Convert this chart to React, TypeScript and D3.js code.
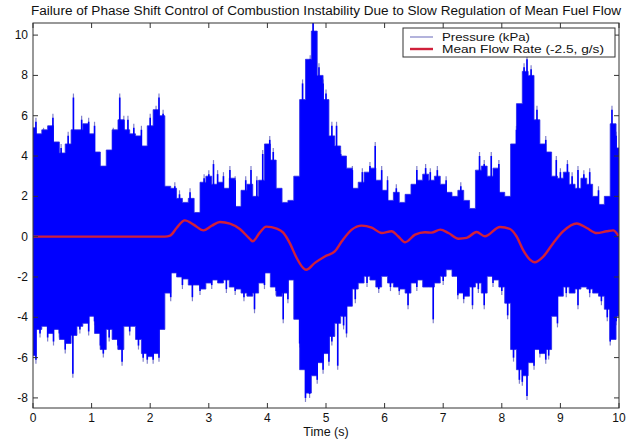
import React from "react";
import * as d3 from "d3";

const upperEnv = [
  5.4, 5.1, 5.3, 5.5, 4.7, 4.15, 4.6, 5.3, 5.3, 5.6,
  5.1, 4.2, 3.5, 4.3, 5.3, 5.8, 5.3, 5.1, 5.0, 4.5,
  5.5, 6.3, 6.0, 2.5, 2.4, 1.9, 1.7, 1.9, 1.2, 2.7,
  3.0, 2.6, 2.7, 2.4, 2.9, 1.5, 2.3, 2.6, 2.0, 2.8,
  4.6, 3.8, 2.4, 1.7, 1.8, 3.0, 6.8, 8.8, 10.2, 8.0,
  6.8, 5.0, 4.5, 4.0, 3.4, 2.4, 2.7, 3.2, 3.4, 2.8,
  2.3, 1.8, 2.2, 1.7, 2.1, 2.6, 2.8, 3.1, 2.8, 3.0,
  2.6, 2.2, 2.0, 2.3, 1.8, 1.4, 3.3, 3.5, 3.0, 3.4,
  2.2, 2.0, 4.6, 6.6, 8.2, 8.0, 5.8, 4.6, 4.2, 3.0,
  2.9, 3.2, 2.6, 2.4, 2.9, 2.6, 2.0, 1.6, 2.0, 5.6,
  4.4,
];
const lowerEnv = [
  -5.9, -4.6, -4.45, -4.8, -4.6, -5.1, -5.3, -4.9, -4.45, -4.3,
  -3.95, -4.8, -5.6, -4.6, -5.1, -5.6, -4.45, -4.45, -5.1, -5.8,
  -5.95, -5.8, -4.6, -2.8, -1.8, -2.0, -2.1, -2.4, -2.4, -2.6,
  -2.3, -2.15, -2.3, -2.15, -2.5, -2.6, -2.8, -2.95, -2.8, -2.3,
  -1.8, -2.5, -2.95, -2.8, -2.15, -4.1, -6.6, -7.76, -6.9, -6.25,
  -5.8, -4.95, -4.3, -3.95, -3.45, -2.6, -2.3, -1.97, -2.15, -2.5,
  -1.97, -2.3, -2.5, -2.6, -2.8, -2.3, -2.15, -2.5, -2.5, -2.3,
  -1.97, -1.64, -1.97, -2.8, -2.95, -2.5, -2.3, -2.8, -1.97, -2.15,
  -2.5, -3.3, -5.6, -6.6, -6.9, -6.25, -5.6, -5.8, -5.6, -3.95,
  -2.95, -2.5, -2.8, -2.6, -2.5, -2.6, -2.8, -2.95, -3.6, -5.1,
  -3.95,
];
const envStep = 0.1;

// Pressure peaks above the envelope (time s, kPa)
const upperSpikeT = [
  0.05, 0.18, 0.34, 0.48, 0.6, 0.69, 0.83, 0.95, 1.05, 1.37, 1.48, 1.55, 1.62, 1.72, 1.85, 2.0, 2.1, 2.15, 2.22,
  2.42, 2.5, 2.68, 2.92, 3.0, 3.08, 3.15, 3.25, 3.36, 3.45, 3.63, 3.72, 3.82, 3.92, 4.04, 4.1,
  4.6, 4.68, 4.73, 4.78, 4.88, 4.95, 5.0, 5.1, 5.18, 5.25, 5.45, 5.62, 5.75, 5.84, 5.95, 6.05, 6.2, 6.55,
  6.7, 6.78, 6.9, 7.05, 7.3, 7.62, 7.7, 7.82, 7.95, 8.25, 8.38, 8.43, 8.5, 8.6, 8.75, 8.93, 9.0, 9.12, 9.2,
  9.3, 9.4, 9.5, 9.65, 9.88, 9.95,
];
const upperSpikeV = [
  5.9, 5.4, 6.1, 4.6, 5.2, 7.1, 6.0, 5.9, 5.7, 5.4, 7.1, 6.0, 6.0, 5.6, 5.5, 6.1, 6.5, 7.1, 6.3,
  2.7, 2.3, 2.4, 3.1, 3.3, 3.8, 3.3, 3.2, 3.5, 3.0, 3.0, 3.5, 3.0, 4.3, 5.0, 4.4,
  7.8, 8.3, 9.0, 10.8, 8.6, 7.8, 7.3, 5.7, 5.7, 4.3, 3.5, 3.4, 3.7, 4.7, 3.5, 3.0, 2.6, 3.5,
  3.6, 3.4, 3.5, 3.0, 2.7, 4.2, 3.8, 4.2, 3.8, 5.5, 8.6, 9.0, 8.5, 6.5, 5.0, 4.0, 3.4, 3.8, 3.2,
  3.5, 3.3, 3.4, 2.5, 6.5, 5.2,
];
const lowerSpikeT = [
  0.05, 0.12, 0.25, 0.35, 0.45, 0.55, 0.68, 0.8, 0.95, 1.05, 1.15, 1.2, 1.3, 1.45, 1.52, 1.65, 1.8, 1.88, 1.95,
  2.05, 2.15, 2.35, 2.55, 2.72, 2.85, 3.05, 3.3, 3.45, 3.6, 3.78, 3.95, 4.15, 4.27, 4.35, 4.55, 4.65, 4.72,
  4.85, 4.95, 5.05, 5.1, 5.2, 5.3, 5.35, 5.5, 5.7, 5.9, 6.1, 6.25, 6.4, 6.55, 6.83, 7.0, 7.25, 7.35, 7.5,
  7.6, 7.7, 7.85, 8.0, 8.1, 8.2, 8.3, 8.35, 8.43, 8.55, 8.65, 8.75, 8.8, 8.95, 9.1, 9.3, 9.5, 9.7, 9.8,
  9.85, 9.95,
];
const lowerSpikeV = [
  -6.3, -5.0, -5.2, -5.4, -5.0, -5.8, -7.0, -4.8, -4.9, -4.4, -5.6, -6.0, -5.2, -5.6, -6.4, -4.9, -5.6, -6.2, -6.3,
  -6.3, -6.2, -3.2, -2.6, -3.2, -2.9, -2.6, -2.8, -2.9, -3.2, -3.8, -2.6, -2.9, -4.3, -3.3, -5.5, -8.2, -8.0,
  -7.3, -6.8, -6.4, -5.4, -6.6, -4.6, -5.0, -3.3, -2.5, -2.8, -2.7, -2.9, -3.6, -2.7, -4.3, -2.4, -3.1, -3.3, -3.6,
  -2.8, -3.6, -2.5, -2.9, -4.1, -6.2, -7.3, -7.4, -8.1, -6.6, -6.0, -6.3, -6.1, -4.5, -3.0, -3.6, -3.0, -3.4, -4.2,
  -5.4, -4.4,
];

// Mean flow rate (scaled)
const flowT = [0, 2.25, 2.34, 2.45, 2.59, 2.74, 2.91, 3.05, 3.19, 3.36, 3.53, 3.70, 3.75, 3.87, 3.98, 4.16, 4.27, 4.38, 4.50, 4.61, 4.66, 4.81, 4.98, 5.15, 5.27, 5.44, 5.61, 5.78, 5.95, 6.12, 6.23, 6.35, 6.52, 6.69, 6.80, 6.95, 7.09, 7.26, 7.40, 7.57, 7.71, 7.97, 8.14, 8.25, 8.36, 8.48, 8.56, 8.71, 8.88, 9.05, 9.28, 9.45, 9.62, 9.79, 9.90, 10];
const flowV = [0, 0, 0.05, 0.43, 0.81, 0.6, 0.31, 0.54, 0.73, 0.65, 0.38, -0.11, -0.23, 0.2, 0.5, 0.4, 0.2, -0.31, -1.06, -1.55, -1.64, -1.3, -0.98, -0.73, -0.23, 0.35, 0.55, 0.45, 0.18, 0.27, 0.02, -0.28, 0.1, 0.22, 0.2, 0.35, 0.18, -0.1, -0.06, 0.23, 0.02, 0.48, 0.38, 0.02, -0.64, -1.14, -1.27, -0.98, -0.31, 0.27, 0.65, 0.43, 0.18, 0.27, 0.31, 0];

const xTicks = [0, 1, 2, 3, 4, 5, 6, 7, 8, 9, 10];
const yTicks = [-8, -6, -4, -2, 0, 2, 4, 6, 8, 10];

const titleText = "Failure of Phase Shift Control of Combustion Instability Due to Slow Regulation of Mean Fuel Flow";
const xLabel = "Time (s)";
const legendLabels = ["Pressure (kPa)", "Mean Flow Rate (-2.5, g/s)"];

export default function App() {
  const W = 630, H = 440;
  const left = 33, right = 619, top = 23, bottom = 408;
  const x = d3.scaleLinear().domain([0, 10]).range([left, right]);
  const y = d3.scaleLinear().domain([-8.5, 10.6]).range([bottom, top]);
  const font = "Arial, 'Liberation Sans', sans-serif";
  const axisColor = "#333";

  const env = upperEnv.map((u, i) => ({ t: i * envStep, u, l: lowerEnv[i] }));
  const area = d3.area<any>().x(d => x(d.t)).y0(d => y(d.l)).y1(d => y(d.u)).curve(d3.curveStep)(env) || "";
  const flow = flowT.map((t, i) => ({ t, v: flowV[i] }));
  const flowPath = d3.line<any>().x(d => x(d.t)).y(d => y(d.v)).curve(d3.curveMonotoneX)(flow) || "";

  const tickLen = 5;
  const tipColor = "#8080cc";
  return (
    <svg width={W} height={H} style={{ position: "absolute", left: 0, top: 0, background: "#fff" }} fontFamily={font}>
      <rect x={0} y={0} width={W} height={H} fill="#fff" />
      <text x={(left + right) / 2} y={15} textAnchor="middle" fontSize={12.5} textLength={590} lengthAdjust="spacingAndGlyphs" fill="#111">{titleText}</text>
      <defs>
        <clipPath id="plotclip"><rect x={left} y={top} width={right - left} height={bottom - top} /></clipPath>
      </defs>
      <g clipPath="url(#plotclip)">
        {upperSpikeT.map((t, i) => (
          <line key={"us" + i} x1={x(t)} x2={x(t)} y1={y(0)} y2={y(upperSpikeV[i])} stroke={tipColor} strokeWidth={1.2} />
        ))}
        {lowerSpikeT.map((t, i) => (
          <line key={"ls" + i} x1={x(t)} x2={x(t)} y1={y(0)} y2={y(lowerSpikeV[i])} stroke={tipColor} strokeWidth={1.2} />
        ))}
        <path d={area} fill="#0000ff" stroke="#2a2ae6" strokeWidth={0.8} />
        {upperSpikeT.map((t, i) => (
          <line key={"usb" + i} x1={x(t)} x2={x(t)} y1={y(0)} y2={y(upperSpikeV[i]) + 4} stroke="#0000ff" strokeWidth={1.6} />
        ))}
        {lowerSpikeT.map((t, i) => (
          <line key={"lsb" + i} x1={x(t)} x2={x(t)} y1={y(0)} y2={y(lowerSpikeV[i]) - 4} stroke="#0000ff" strokeWidth={1.6} />
        ))}
        <path d={flowPath} fill="none" stroke="#d0203a" strokeWidth={2.4} />
      </g>
      <rect x={left} y={top} width={right - left} height={bottom - top} fill="none" stroke={axisColor} strokeWidth={1} />
      {xTicks.map(t => (
        <g key={"x" + t}>
          <line x1={x(t)} x2={x(t)} y1={bottom} y2={bottom - tickLen} stroke={axisColor} />
          <line x1={x(t)} x2={x(t)} y1={top} y2={top + tickLen} stroke={axisColor} />
          <text x={x(t)} y={422} textAnchor="middle" fontSize={12} fill="#111">{t}</text>
        </g>
      ))}
      {yTicks.map(v => (
        <g key={"y" + v}>
          <line x1={left} x2={left + tickLen} y1={y(v)} y2={y(v)} stroke={axisColor} />
          <line x1={right} x2={right - tickLen} y1={y(v)} y2={y(v)} stroke={axisColor} />
          <text x={28} y={y(v) + 4} textAnchor="end" fontSize={12} fill="#111">{v}</text>
        </g>
      ))}
      <text x={(left + right) / 2} y={436} textAnchor="middle" fontSize={12.5} fill="#111">{xLabel}</text>
      <g>
        <rect x={403} y={28} width={212} height={29} fill="#fff" stroke={axisColor} strokeWidth={1} />
        <line x1={410} x2={433} y1={37} y2={37} stroke="#9a9ad0" strokeWidth={1.5} />
        <text x={442} y={41} fontSize={11.5} textLength={88} lengthAdjust="spacingAndGlyphs" fill="#111">{legendLabels[0]}</text>
        <line x1={410} x2={433} y1={49} y2={49} stroke="#d0203a" strokeWidth={2.4} />
        <text x={442} y={53} fontSize={11.5} textLength={162} lengthAdjust="spacingAndGlyphs" fill="#111">{legendLabels[1]}</text>
      </g>
    </svg>
  );
}
